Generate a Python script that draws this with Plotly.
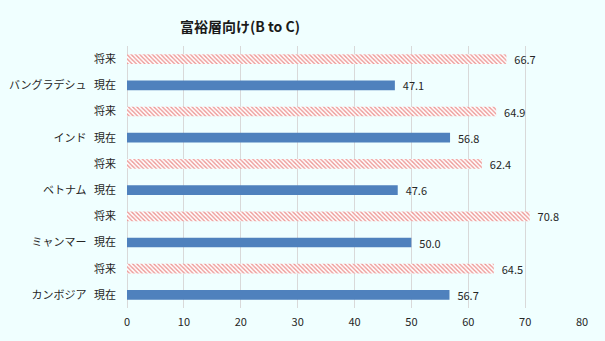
import plotly.graph_objects as go

countries = ["カンボジア", "ミャンマー", "ベトナム", "インド", "バングラデシュ"]
now_vals = [56.7, 50.0, 47.6, 56.8, 47.1]
future_vals = [64.5, 70.8, 62.4, 64.9, 66.7]
now_label = "現在"
future_label = "将来"
x_ticks = [0, 10, 20, 30, 40, 50, 60, 70, 80]

now_pos = [2 * i for i in range(len(countries))]
fut_pos = [2 * i + 1 for i in range(len(countries))]

tickvals, ticktext = [], []
for i, c in enumerate(countries):
    tickvals += [now_pos[i], fut_pos[i]]
    ticktext += [c + "\u00a0\u00a0\u00a0" + now_label, future_label]

font_family = "Noto Sans CJK JP"
pad = "\u00a0\u00a0"

fig = go.Figure()
fig.add_trace(go.Bar(
    x=now_vals, y=now_pos, orientation="h", width=0.37,
    marker=dict(color="#4F81BD", line=dict(width=0)),
    text=[pad + f"{v:.1f}" for v in now_vals], textposition="outside",
    constraintext="none",
    textfont=dict(size=11, color="#262626", family=font_family),
    cliponaxis=False, showlegend=False,
))
fig.add_trace(go.Bar(
    x=future_vals, y=fut_pos, orientation="h", width=0.37,
    marker=dict(color="white", line=dict(width=0),
                pattern=dict(shape="\\", fgcolor="#D9302B", bgcolor="white",
                             size=3, solidity=0.45)),
    text=[pad + f"{v:.1f}" for v in future_vals], textposition="outside",
    constraintext="none",
    textfont=dict(size=11, color="#262626", family=font_family),
    cliponaxis=False, showlegend=False,
))

fig.update_layout(
    width=605, height=341,
    margin=dict(l=127, r=23, t=46, b=33),
    paper_bgcolor="#F0FFFF", plot_bgcolor="#F0FFFF",
    barmode="overlay",
    font=dict(family=font_family, size=11, color="#262626"),
    title=dict(text="<b>富裕層向け(B to C)</b>", x=240 / 605, xanchor="center",
               y=1 - 27 / 341, yanchor="middle",
               font=dict(size=14, color="#1a1a1a", family=font_family)),
    xaxis=dict(range=[0, 80], tickvals=x_ticks, showgrid=True,
               gridcolor="#D9D9D9", gridwidth=1, zeroline=True,
               zerolinecolor="#D9D9D9", zerolinewidth=1,
               showline=False, ticks="", ticklabelstandoff=6,
               tickfont=dict(size=11), automargin=False),
    yaxis=dict(range=[-0.5, 9.5], tickvals=tickvals, ticktext=ticktext,
               showgrid=False, zeroline=False, showline=False,
               ticks="", ticklabelstandoff=10, tickfont=dict(size=11),
               automargin=False),
)

fig.write_html("out.html")
